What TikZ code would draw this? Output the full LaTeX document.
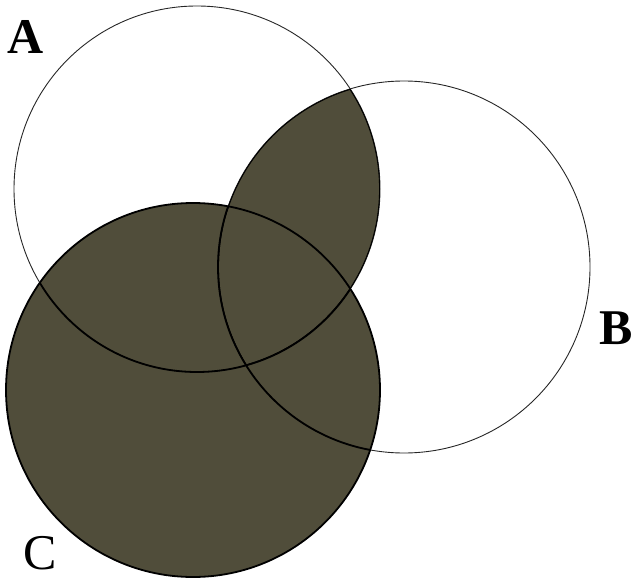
\documentclass[tikz,border=0pt]{standalone}
\usepackage{fontspec}
\setmainfont{Liberation Serif}
\definecolor{shadecol}{RGB}{80,77,58}
\begin{document}
\begin{tikzpicture}[x=1pt,y=-1pt,
  shadefill/.style={fill=shadecol},
  thinline/.style={draw=black!85,line width=0.9pt},
  thickline/.style={draw=black,line width=1.8pt},
  lbl/.style={inner sep=0pt,anchor=center,font=\fontsize{50}{60}\selectfont}]
\useasboundingbox (0,0) rectangle (636,580);
\coordinate (cA) at (197,189);
\coordinate (cB) at (404,267);
\coordinate (cC) at (193,390);
% shading: C union (A cap B)
\fill[shadefill] (cC) circle[radius=187pt];
\begin{scope}
  \clip (cA) circle[radius=183pt];
  \fill[shadefill] (cB) circle[radius=186pt];
\end{scope}
% outlines
\draw[thinline] (cA) circle[radius=183pt];
\draw[thinline] (cB) circle[radius=186pt];
\begin{scope}
  \clip (cC) circle[radius=187pt];
  \draw[thickline] (cA) circle[radius=183pt];
  \draw[thickline] (cB) circle[radius=186pt];
\end{scope}
\begin{scope}
  \clip (cA) circle[radius=183pt];
  \clip (cB) circle[radius=186pt];
  \draw[thickline] (cA) circle[radius=183pt];
  \draw[thickline] (cB) circle[radius=186pt];
\end{scope}
\draw[thickline] (cC) circle[radius=187pt];
% labels
\node[lbl,font=\fontsize{50}{60}\selectfont\bfseries] (labA) at (26,37) {A};
\node[lbl,font=\fontsize{50}{60}\selectfont\bfseries] (labB) at (616,328) {B};
\node[lbl] (labC) at (40,553) {C};
\end{tikzpicture}
\end{document}
